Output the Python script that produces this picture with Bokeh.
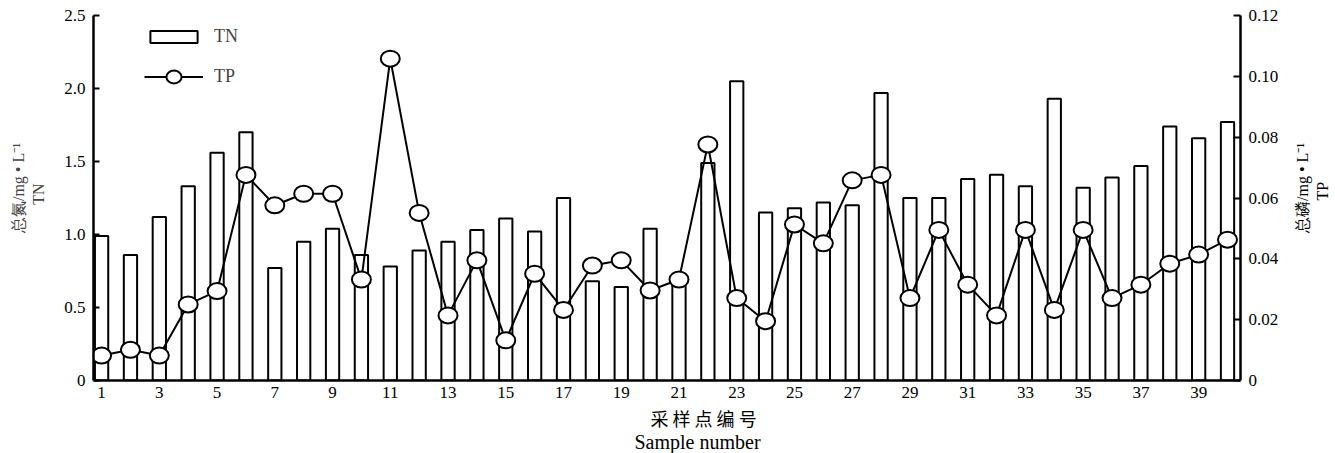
import math
from bokeh.plotting import figure
from bokeh.layouts import row
from bokeh.models import (Range1d, LinearAxis, FixedTicker, Legend, LegendItem,
                          ColumnDataSource, Title, Label)
from bokeh.embed import file_html
from bokeh.resources import INLINE

samples = list(range(1, 41))
tn = [0.99, 0.86, 1.12, 1.33, 1.56, 1.70, 0.77, 0.95, 1.04, 0.86,
      0.78, 0.89, 0.95, 1.03, 1.11, 1.02, 1.25, 0.68, 0.64, 1.04,
      0.68, 1.49, 2.05, 1.15, 1.18, 1.22, 1.20, 1.97, 1.25, 1.25,
      1.38, 1.41, 1.33, 1.93, 1.32, 1.39, 1.47, 1.74, 1.66, 1.77]
tp = [0.0082, 0.0101, 0.0082, 0.0250, 0.0294, 0.0676, 0.0576, 0.0614, 0.0614, 0.0332,
      0.1058, 0.0551, 0.0214, 0.0395, 0.0132, 0.0351, 0.0232, 0.0378, 0.0395, 0.0296,
      0.0332, 0.0776, 0.0271, 0.0195, 0.0513, 0.0451, 0.0658, 0.0676, 0.0271, 0.0495,
      0.0315, 0.0214, 0.0495, 0.0232, 0.0495, 0.0271, 0.0315, 0.0384, 0.0414, 0.0463]
x_ticks = list(range(1, 41, 2))
left_ticks = [0, 0.5, 1.0, 1.5, 2.0, 2.5]
left_labels = ["0", "0.5", "1.0", "1.5", "2.0", "2.5"]
right_ticks = [0, 0.02, 0.04, 0.06, 0.08, 0.10, 0.12]
right_labels = ["0", "0.02", "0.04", "0.06", "0.08", "0.10", "0.12"]

SERIF = "Liberation Serif"
CJK = "Noto Sans CJK SC"
NB = "\u00a0"

src = ColumnDataSource(dict(x=samples, tn=tn, tp=tp))

p = figure(width=1285, height=453, output_backend="svg", toolbar_location=None,
           x_range=Range1d(0.72, 40.45), y_range=Range1d(0, 2.5),
           min_border_left=93, min_border_right=45, min_border_top=15, min_border_bottom=73)
p.extra_y_ranges = {"tp": Range1d(0, 0.12)}
p.outline_line_color = None
p.grid.visible = False
p.background_fill_color = "white"

bars = p.vbar(x="x", top="tn", bottom=0, width=0.46, source=src,
              fill_color="white", line_color="black", line_width=2)
ln = p.line(x="x", y="tp", source=src, y_range_name="tp", line_color="black", line_width=2)
pts = p.ellipse(x="x", y="tp", width=19, height=16, width_units="screen", height_units="screen",
                source=src, y_range_name="tp", fill_color="white", line_color="black", line_width=2)

# bottom axis
xa = p.xaxis[0]
xa.ticker = FixedTicker(ticks=x_ticks)
xa.major_tick_in = 0
xa.major_tick_out = 0
xa.minor_tick_out = 0
xa.axis_line_width = 2.5
xa.major_label_text_font = SERIF
xa.major_label_text_font_size = "17px"
xa.major_label_text_color = "black"
xa.major_label_standoff = 6

# left axis
ya = p.yaxis[0]
ya.ticker = FixedTicker(ticks=left_ticks)
ya.major_label_overrides = {t: l for t, l in zip(left_ticks, left_labels)}
ya.major_tick_in = 6
ya.major_tick_out = 0
ya.minor_tick_out = 0
ya.major_tick_line_width = 2
ya.axis_line_width = 2.5
ya.major_label_text_font = SERIF
ya.major_label_text_font_size = "17px"
ya.major_label_text_color = "black"
ya.major_label_standoff = 8
ya.axis_label = NB * 5 + "总氮/mg • L⁻¹\n" + NB * 2 + "TN"
ya.axis_label_text_font = SERIF
ya.axis_label_text_font_size = "16px"
ya.axis_label_text_font_style = "normal"
ya.axis_label_standoff = 14

# right axis (ticks + labels); its title is drawn in the narrow panel beside it
ra = LinearAxis(y_range_name="tp", ticker=FixedTicker(ticks=right_ticks))
ra.major_label_overrides = {t: l for t, l in zip(right_ticks, right_labels)}
ra.major_tick_in = 7
ra.major_tick_out = 0
ra.minor_tick_out = 0
ra.major_tick_line_width = 2
ra.axis_line_width = 2.5
ra.major_label_text_font = SERIF
ra.major_label_text_font_size = "17px"
ra.major_label_text_color = "black"
ra.major_label_standoff = 8
p.add_layout(ra, "right")

# x-axis titles (two lines, offset to the right like the reference)
t1 = Title(text="采 样 点 编 号", text_font=CJK, text_font_size="18px",
           text_font_style="normal", align="left", offset=557, standoff=4,
           text_color="black")
t2 = Title(text="Sample number", text_font=SERIF, text_font_size="20px",
           text_font_style="normal", align="left", offset=541, standoff=-7,
           text_color="black")
p.add_layout(t1, "below")
p.add_layout(t2, "below")

# legends
leg_tn = Legend(items=[LegendItem(label="TN", renderers=[bars])],
                location=(51, 333), glyph_width=59, glyph_height=15, label_height=15,
                padding=0, margin=0, label_standoff=11,
                label_text_font=SERIF, label_text_font_size="18px",
                border_line_alpha=0, background_fill_alpha=0)
leg_tp = Legend(items=[LegendItem(label="TP", renderers=[ln, pts])],
                location=(51, 293), glyph_width=59, glyph_height=19, label_height=15,
                padding=0, margin=0, label_standoff=11,
                label_text_font=SERIF, label_text_font_size="18px",
                border_line_alpha=0, background_fill_alpha=0)
p.add_layout(leg_tn)
p.add_layout(leg_tp)

# narrow panel on the right carrying the right-axis title (reads bottom to top)
side = figure(width=50, height=453, output_backend="svg", toolbar_location=None,
              x_range=Range1d(0, 50), y_range=Range1d(0, 453), min_border=0,
              x_axis_location=None, y_axis_location=None)
side.outline_line_color = None
side.grid.visible = False
side.add_layout(Label(x=17, y=239, text="总磷/mg • L⁻¹", angle=math.pi / 2,
                      text_align="center", text_baseline="middle", text_font=SERIF,
                      text_font_size="16px", text_color="black"))
side.add_layout(Label(x=37, y=235, text="TP", angle=math.pi / 2,
                      text_align="center", text_baseline="middle", text_font=SERIF,
                      text_font_size="16px", text_color="black"))

layout = row(p, side)
open("out.html", "w").write(file_html(layout, INLINE))
